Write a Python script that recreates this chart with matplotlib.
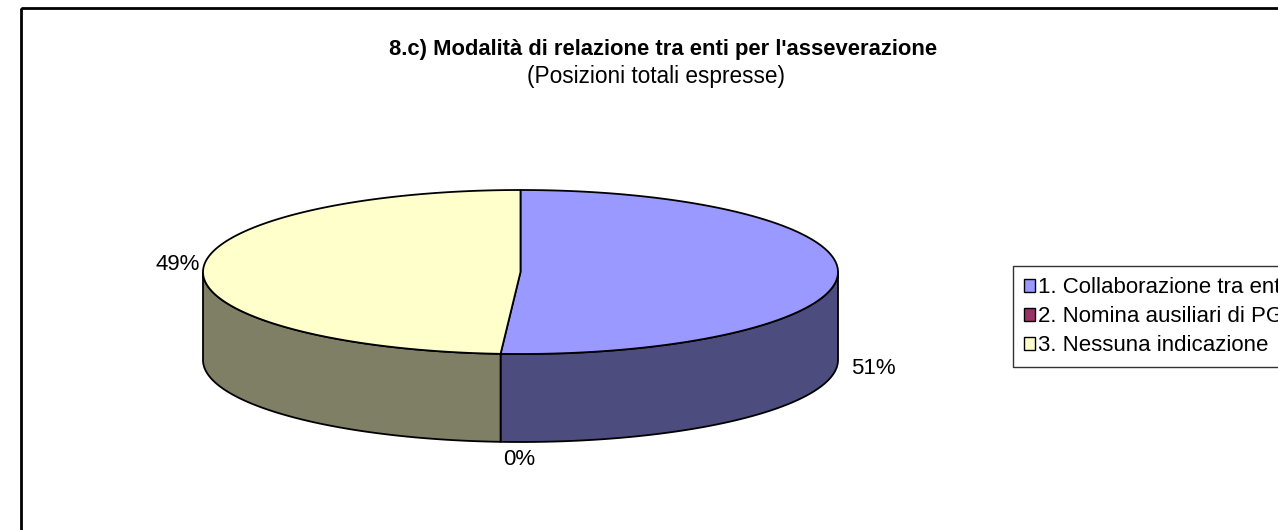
import numpy as np
import matplotlib
matplotlib.use('Agg')
import matplotlib.pyplot as plt
from matplotlib.patches import Polygon, Patch, Rectangle

# -----------------------------
# Data
# -----------------------------
categories = ['1. Collaborazione tra enti', '2. Nomina ausiliari di PG', '3. Nessuna indicazione']
values = [51, 0, 49]
labels = ['51%', '0%', '49%']
top_colors = ['#9999FF', '#993366', '#FFFFCC']
side_colors = ['#4C4C7F', '#4C1933', '#7F7F66']

title = "8.c) Modalità di relazione tra enti per l'asseverazione"
subtitle = '(Posizioni totali espresse)'

plt.rcParams['font.family'] = ['Liberation Sans', 'DejaVu Sans']

# -----------------------------
# Figure in pixel coordinates
# -----------------------------
W, H = 1278, 530
fig = plt.figure(figsize=(W / 100, H / 100), dpi=100)
ax = fig.add_axes([0, 0, 1, 1])
ax.set_xlim(0, W)
ax.set_ylim(H, 0)
ax.axis('off')

# outer chart border (runs off the right/bottom edge, as in the original)
ax.add_patch(Rectangle((21, 8), 1400, 600, fill=False, edgecolor='black', lw=2))

fig.text(663 / W, 1 - 50 / H, title, ha='center', va='center', fontsize=15.8, fontweight='bold')
fig.text(656 / W, 1 - 77 / H, subtitle, ha='center', va='center', fontsize=16.3)

# pie geometry
cx, cy = 520.5, 272
rx, ry = 317.5, 82
depth = 88


def pt(t_deg, dy=0):
    t = np.radians(t_deg)
    return cx + rx * np.cos(t), cy - ry * np.sin(t) + dy


# slice angles: start at 12 o'clock, clockwise
total = sum(values)
starts, ends = [], []
a = 90.0
for v in values:
    starts.append(a)
    a -= v / total * 360
    ends.append(a)

# side walls (front half: t in [-180, 0])
for s, e, c in zip(starts, ends, side_colors):
    lo, hi = max(e, -180), min(s, 0)
    if hi - lo <= 0:
        continue
    ts = np.linspace(lo, hi, 120)
    top = [pt(t) for t in ts]
    bot = [pt(t, depth) for t in ts[::-1]]
    ax.add_patch(Polygon(top + bot, closed=True, facecolor=c, edgecolor='black', lw=1.3, joinstyle='round'))

# top faces
for s, e, c in zip(starts, ends, top_colors):
    if s - e <= 0:
        continue
    ts = np.linspace(s, e, 200)
    poly = [(cx, cy)] + [pt(t) for t in ts]
    ax.add_patch(Polygon(poly, closed=True, facecolor=c, edgecolor='black', lw=1.3, joinstyle='round'))

# percentage labels
for s, e, lab in zip(starts, ends, labels):
    tm = (s + e) / 2
    x, y = pt(tm)
    ct = np.cos(np.radians(tm))
    if ct > 0.5:
        ax.text(x + 13, y + depth + 6, lab, ha='left', va='center', fontsize=16)
    elif ct < -0.5:
        ax.text(x - 3, y - 5, lab, ha='right', va='center', fontsize=16)
    else:
        ax.text(x + 19, y + depth + 18, lab, ha='center', va='center', fontsize=16)

# legend (cut by the right edge, as in the original)
handles = [Patch(facecolor=c, edgecolor='black', lw=1) for c in top_colors]
leg = fig.legend(handles, categories, loc='upper left',
                 bbox_to_anchor=(1013 / W, 1 - 266 / H), fontsize=16,
                 frameon=True, fancybox=False, edgecolor='black',
                 handlelength=0.5, handleheight=0.5, handletextpad=0.12,
                 labelspacing=0.36, borderpad=0.5, borderaxespad=0)
leg.get_frame().set_linewidth(1)

fig.savefig('out.png', dpi=100, facecolor='white')
